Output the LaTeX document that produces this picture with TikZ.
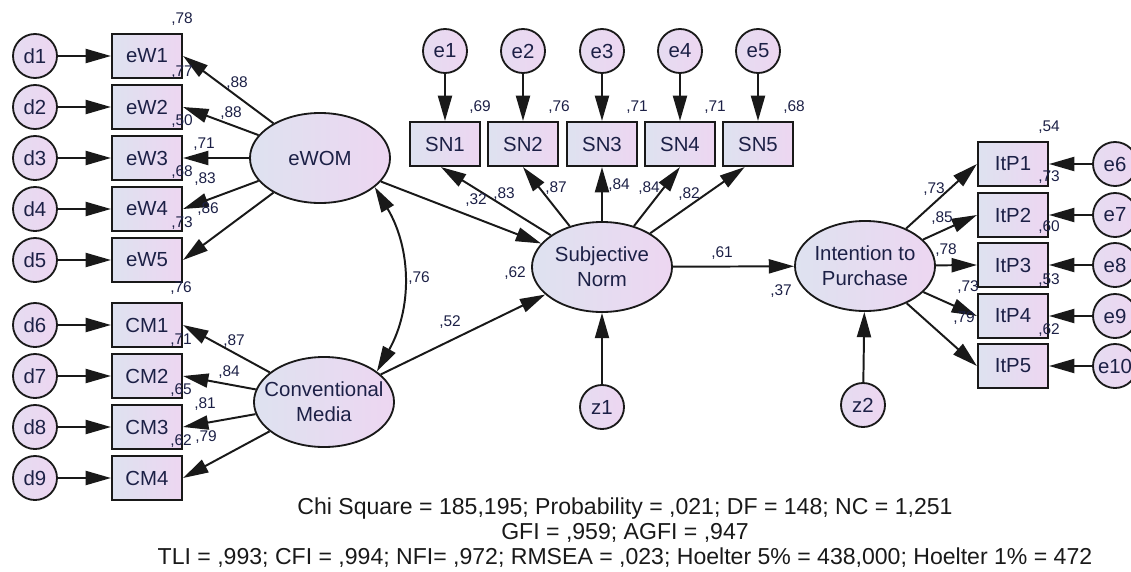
\documentclass[tikz,border=0pt]{standalone}
\usepackage{fontspec}
\setmainfont{Liberation Sans}
\definecolor{shadeleft}{RGB}{222, 226, 240}
\definecolor{shaderight}{RGB}{237, 214, 241}
\definecolor{inkgray}{RGB}{25, 25, 25}
\definecolor{labelnavy}{RGB}{28, 32, 70}
\usepackage{tikz}
\usetikzlibrary{shapes.geometric, arrows.meta}

\begin{document}
\begin{tikzpicture}[x=0.025cm, y=-0.025cm,
  item/.style={draw=inkgray, line width=1.5pt, left color=shadeleft, right color=shaderight, minimum width=1.75cm, minimum height=1.1cm, inner sep=0pt, font=\fontsize{14.5}{16}\selectfont, text=labelnavy},
  latent/.style={ellipse, draw=inkgray, line width=1.3pt, left color=shadeleft, right color=shaderight, minimum width=3.5cm, minimum height=2.25cm, inner xsep=-17pt, inner ysep=0pt, align=center, font=\fontsize{14.5}{17.7}\selectfont, text=labelnavy},
  err/.style={circle, draw=inkgray, line width=1.3pt, left color=shadeleft!50!shaderight, right color=shaderight, minimum size=1.1cm, inner sep=0pt, font=\fontsize{14.5}{16}\selectfont, text=labelnavy},
  coef/.style={font=\fontsize{11}{12}\selectfont, text=labelnavy, inner sep=0pt},
  effect/.style={draw=inkgray, line width=1.4pt, -{Triangle[length=18pt, width=10pt]}}
]
  \useasboundingbox (0, 0) rectangle (1131, 572);

  % Latent variables
  \node[latent] (eWOM) at (320, 158) {eWOM};
  \node[latent] (CM) at (324, 402) {Conventional\\Media};
  \node[latent] (SN) at (602, 267) {Subjective\\Norm};
  \node[latent] (ItP) at (865, 266) {Intention to\\Purchase};

  % eWOM indicators
  \node[err] (d1) at (35, 56) {d1};
  \node[err] (d2) at (35, 107) {d2};
  \node[err] (d3) at (35, 158) {d3};
  \node[err] (d4) at (35, 209) {d4};
  \node[err] (d5) at (35, 260) {d5};
  \node[item] (eW1) at (147, 56) {eW1};
  \node[item] (eW2) at (147, 107) {eW2};
  \node[item] (eW3) at (147, 158) {eW3};
  \node[item] (eW4) at (147, 209) {eW4};
  \node[item] (eW5) at (147, 260) {eW5};
  \draw[effect] (d1) -- (eW1);
  \draw[effect] (d2) -- (eW2);
  \draw[effect] (d3) -- (eW3);
  \draw[effect] (d4) -- (eW4);
  \draw[effect] (d5) -- (eW5);
  \draw[effect] (eWOM) -- (eW1.east);
  \draw[effect] (eWOM) -- (eW2.east);
  \draw[effect] (eWOM) -- (eW3.east);
  \draw[effect] (eWOM) -- (eW4.east);
  \draw[effect] (eWOM) -- (eW5.east);
  \node[coef] at (182, 19) {,78};
  \node[coef] at (182, 72) {,77};
  \node[coef] at (182, 121) {,50};
  \node[coef] at (182, 172) {,68};
  \node[coef] at (182, 223) {,73};
  \node[coef] at (237, 83) {,88};
  \node[coef] at (231, 113) {,88};
  \node[coef] at (204, 144) {,71};
  \node[coef] at (205, 179) {,83};
  \node[coef] at (208, 209) {,86};

  % Conventional media indicators
  \node[err] (d6) at (35, 325) {d6};
  \node[err] (d7) at (35, 376) {d7};
  \node[err] (d8) at (35, 427) {d8};
  \node[err] (d9) at (35, 478) {d9};
  \node[item] (CM1) at (147, 325) {CM1};
  \node[item] (CM2) at (147, 376) {CM2};
  \node[item] (CM3) at (147, 427) {CM3};
  \node[item] (CM4) at (147, 478) {CM4};
  \draw[effect] (d6) -- (CM1);
  \draw[effect] (d7) -- (CM2);
  \draw[effect] (d8) -- (CM3);
  \draw[effect] (d9) -- (CM4);
  \draw[effect] (CM) -- (CM1.east);
  \draw[effect] (CM) -- (CM2.east);
  \draw[effect] (CM) -- (CM3.east);
  \draw[effect] (CM) -- (CM4.east);
  \node[coef] at (181, 288) {,76};
  \node[coef] at (181, 340) {,71};
  \node[coef] at (181, 390) {,65};
  \node[coef] at (181, 441) {,62};
  \node[coef] at (234, 341) {,87};
  \node[coef] at (229, 372) {,84};
  \node[coef] at (205, 404) {,81};
  \node[coef] at (206, 437) {,79};

  % Correlation
  \draw[draw=inkgray, line width=1.4pt, {Triangle[length=18pt, width=10pt]}-{Triangle[length=18pt, width=10pt]}] (eWOM.-28) to[bend left=30] (CM.30);
  \node[coef] at (419, 278) {,76};

  % Subjective norm indicators
  \node[err] (e1) at (445, 51) {e1};
  \node[err] (e2) at (523, 51) {e2};
  \node[err] (e3) at (602, 51) {e3};
  \node[err] (e4) at (680, 51) {e4};
  \node[err] (e5) at (758, 51) {e5};
  \node[item] (SN1) at (445, 144) {SN1};
  \node[item] (SN2) at (523, 144) {SN2};
  \node[item] (SN3) at (602, 144) {SN3};
  \node[item] (SN4) at (680, 144) {SN4};
  \node[item] (SN5) at (758, 144) {SN5};
  \draw[effect] (e1) -- (SN1);
  \draw[effect] (e2) -- (SN2);
  \draw[effect] (e3) -- (SN3);
  \draw[effect] (e4) -- (SN4);
  \draw[effect] (e5) -- (SN5);
  \draw[effect] (SN) -- (SN1.-100);
  \draw[effect] (SN) -- (SN2.south);
  \draw[effect] (SN) -- (SN3.south);
  \draw[effect] (SN) -- (SN4.south);
  \draw[effect] (SN) -- (SN5.-120);
  \node[coef] at (480, 107) {,69};
  \node[coef] at (559, 107) {,76};
  \node[coef] at (637, 107) {,71};
  \node[coef] at (715, 107) {,71};
  \node[coef] at (794, 107) {,68};
  \node[coef] at (504, 194) {,83};
  \node[coef] at (556, 188) {,87};
  \node[coef] at (619, 185) {,84};
  \node[coef] at (649, 188) {,84};
  \node[coef] at (689, 194) {,82};

  % Structural paths
  \draw[effect] (eWOM) -- (SN);
  \draw[effect] (CM) -- (SN);
  \draw[effect] (SN) -- (ItP);
  \node[coef] at (476, 200) {,32};
  \node[coef] at (450, 322) {,52};
  \node[coef] at (515, 273) {,62};
  \node[coef] at (722, 253) {,61};
  \node[coef] at (781, 291) {,37};

  % Disturbances
  \node[err] (z1) at (602, 407) {z1};
  \node[err] (z2) at (863, 405) {z2};
  \draw[effect] (z1) -- (SN);
  \draw[effect] (z2) -- (ItP);

  % Intention to purchase indicators
  \node[item] (ItP1) at (1013, 164) {ItP1};
  \node[item] (ItP2) at (1013, 215) {ItP2};
  \node[item] (ItP3) at (1013, 265) {ItP3};
  \node[item] (ItP4) at (1013, 316) {ItP4};
  \node[item] (ItP5) at (1013, 366) {ItP5};
  \node[err] (e6) at (1115, 164) {e6};
  \node[err] (e7) at (1115, 215) {e7};
  \node[err] (e8) at (1115, 265) {e8};
  \node[err] (e9) at (1115, 316) {e9};
  \node[err] (e10) at (1115, 366) {e10};
  \draw[effect] (e6) -- (ItP1);
  \draw[effect] (e7) -- (ItP2);
  \draw[effect] (e8) -- (ItP3);
  \draw[effect] (e9) -- (ItP4);
  \draw[effect] (e10) -- (ItP5);
  \draw[effect] (ItP) -- (ItP1.west);
  \draw[effect] (ItP) -- (ItP2.west);
  \draw[effect] (ItP) -- (ItP3.west);
  \draw[effect] (ItP) -- (ItP4.west);
  \draw[effect] (ItP) -- (ItP5.west);
  \node[coef] at (1049, 127) {,54};
  \node[coef] at (1049, 177) {,73};
  \node[coef] at (1049, 227) {,60};
  \node[coef] at (1049, 280) {,53};
  \node[coef] at (1049, 330) {,62};
  \node[coef] at (934, 189) {,73};
  \node[coef] at (942, 218) {,85};
  \node[coef] at (946, 250) {,78};
  \node[coef] at (968, 287) {,73};
  \node[coef] at (964, 318) {,79};

  % Fit indices
  \node[font=\fontsize{16.4}{17.7}\selectfont, align=center, text=inkgray] (fit) at (625, 533) {
    Chi Square = 185,195; Probability = ,021; DF = 148; NC = 1,251\\
    GFI = ,959; AGFI = ,947\\
    TLI = ,993; CFI = ,994; NFI= ,972; RMSEA = ,023; Hoelter 5\% = 438,000; Hoelter 1\% = 472
  };
\end{tikzpicture}
\end{document}
